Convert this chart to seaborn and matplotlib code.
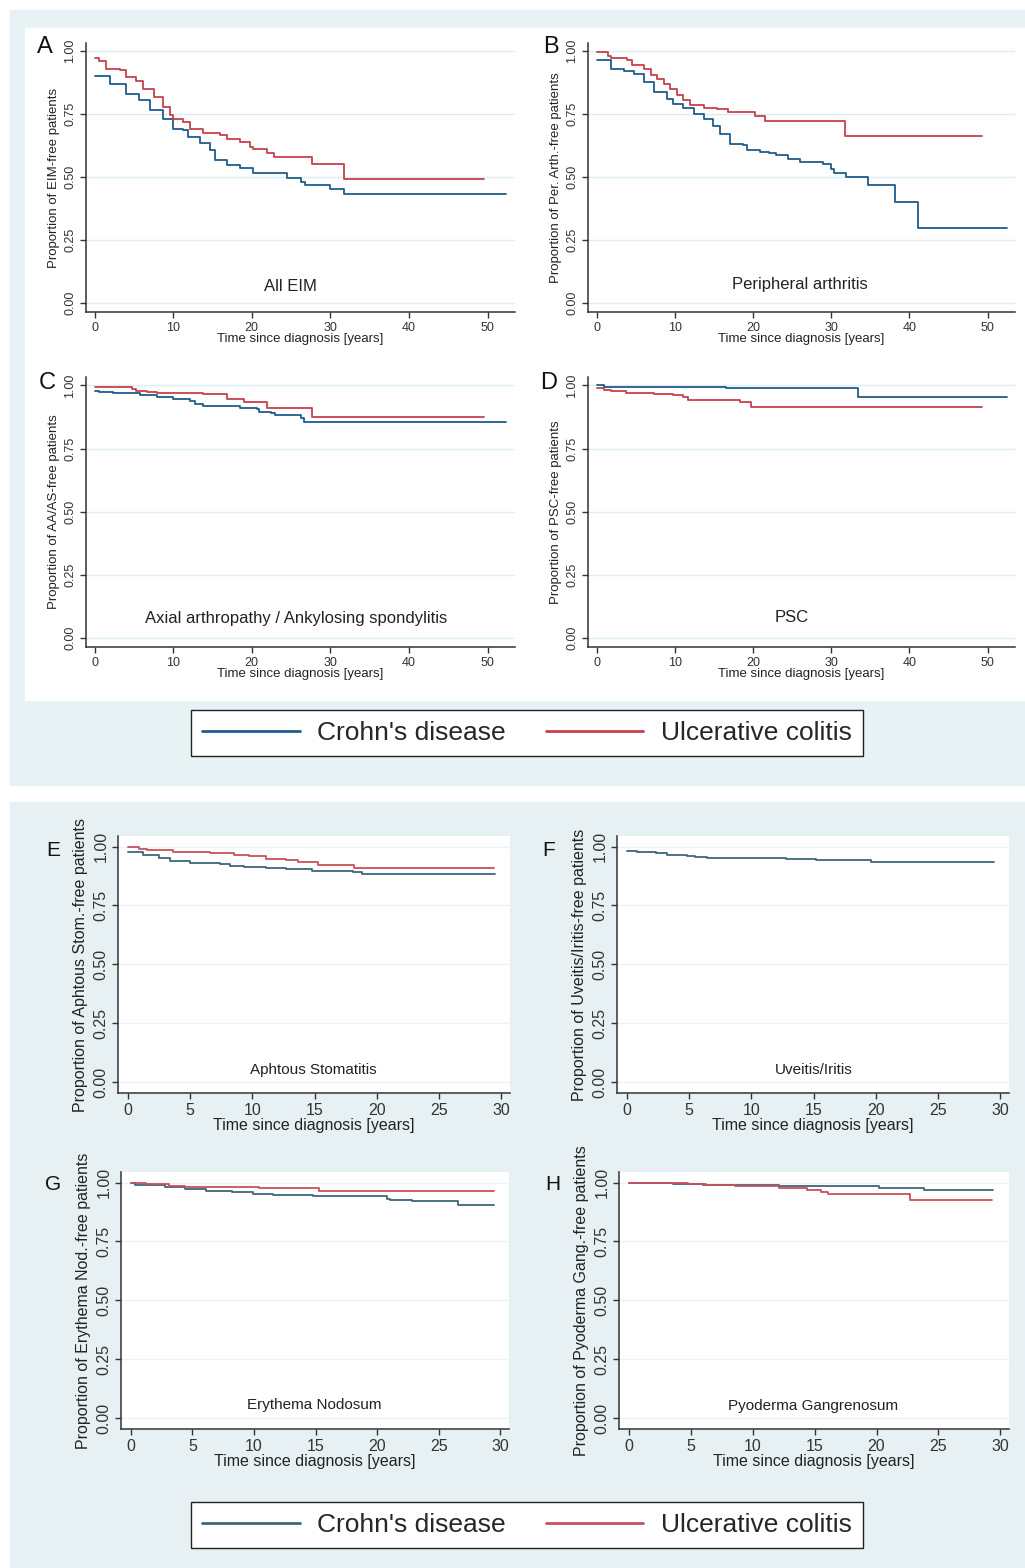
import pandas as pd
import matplotlib
matplotlib.use('Agg')
import matplotlib.pyplot as plt
from matplotlib.patches import Rectangle
import seaborn as sns

# Kaplan-Meier curves (time in years, proportion event-free)
a_cd_t = [0, 1.9, 4.0, 5.7, 7.0, 8.7, 10.0, 11.3, 11.9, 13.4, 14.7, 15.3, 16.8, 18.5, 20.2, 23.2, 24.5, 26.2, 26.8, 30.0, 31.7, 52.4]
a_cd_s = [0.90, 0.871, 0.829, 0.805, 0.766, 0.733, 0.693, 0.687, 0.66, 0.634, 0.608, 0.568, 0.549, 0.536, 0.518, 0.516, 0.496, 0.483, 0.47, 0.453, 0.434, 0.434]
a_uc_t = [0, 0.6, 1.5, 3.2, 4.0, 5.3, 6.2, 7.5, 8.7, 9.6, 10.0, 11.3, 12.1, 13.8, 16.0, 16.8, 18.5, 19.8, 20.2, 21.9, 22.8, 27.7, 31.7, 49.5]
a_uc_s = [0.974, 0.963, 0.93, 0.924, 0.897, 0.884, 0.851, 0.818, 0.779, 0.746, 0.733, 0.72, 0.693, 0.674, 0.667, 0.65, 0.641, 0.621, 0.612, 0.595, 0.582, 0.551, 0.493, 0.493]

b_cd_t = [0, 1.8, 3.5, 4.75, 6.0, 7.3, 9.0, 9.8, 11.1, 12.4, 13.7, 14.9, 15.8, 17.0, 18.7, 19.2, 20.9, 22.1, 23.0, 24.5, 26.0, 28.9, 30.0, 30.4, 31.9, 34.7, 38.1, 41.1, 52.5]
b_cd_s = [0.966, 0.93, 0.92, 0.908, 0.877, 0.838, 0.811, 0.792, 0.776, 0.752, 0.732, 0.702, 0.673, 0.633, 0.627, 0.61, 0.60, 0.596, 0.587, 0.574, 0.561, 0.551, 0.534, 0.517, 0.501, 0.468, 0.402, 0.30, 0.30]
b_uc_t = [0, 1.4, 1.8, 3.9, 4.5, 6.0, 6.9, 7.7, 8.6, 9.4, 10.3, 11.1, 12.0, 13.7, 15.4, 16.8, 20.2, 21.5, 31.8, 49.3]
b_uc_s = [0.996, 0.983, 0.974, 0.966, 0.947, 0.93, 0.904, 0.89, 0.871, 0.851, 0.828, 0.807, 0.785, 0.776, 0.769, 0.759, 0.743, 0.723, 0.662, 0.662]

c_cd_t = [0, 0.6, 2.3, 5.75, 7.9, 10.0, 12.1, 12.8, 13.8, 18.5, 20.7, 20.9, 22.4, 23.0, 26.2, 26.6, 52.4]
c_cd_s = [0.977, 0.974, 0.968, 0.96, 0.955, 0.944, 0.938, 0.927, 0.918, 0.911, 0.905, 0.895, 0.891, 0.882, 0.872, 0.856, 0.856]
c_uc_t = [0, 4.7, 5.3, 6.6, 7.9, 13.8, 16.8, 19.0, 21.9, 27.7, 49.5]
c_uc_s = [0.993, 0.984, 0.977, 0.975, 0.968, 0.964, 0.947, 0.934, 0.911, 0.874, 0.874]

d_cd_t = [0, 0.9, 16.6, 33.4, 52.5]
d_cd_s = [1.0, 0.993, 0.988, 0.955, 0.955]
d_uc_t = [0, 0.9, 1.8, 3.7, 7.3, 9.8, 11.1, 11.7, 18.3, 19.8, 49.3]
d_uc_s = [0.988, 0.981, 0.977, 0.971, 0.967, 0.96, 0.954, 0.942, 0.934, 0.916, 0.916]

e_cd_t = [0, 1.2, 2.5, 3.4, 5.0, 7.4, 8.2, 9.3, 11.1, 12.7, 14.8, 18.1, 18.8, 29.5]
e_cd_s = [0.976, 0.965, 0.95, 0.94, 0.932, 0.926, 0.919, 0.915, 0.911, 0.905, 0.897, 0.89, 0.883, 0.883]
e_uc_t = [0, 0.9, 1.5, 3.6, 5.0, 6.6, 8.5, 9.7, 11.1, 12.7, 13.7, 15.3, 18.2, 29.4]
e_uc_s = [0.997, 0.989, 0.986, 0.979, 0.975, 0.972, 0.965, 0.958, 0.949, 0.943, 0.934, 0.922, 0.908, 0.908]

f_cd_t = [0, 0.8, 2.3, 3.2, 4.8, 5.5, 6.4, 12.8, 15.2, 19.6, 29.5]
f_cd_s = [0.982, 0.977, 0.972, 0.965, 0.96, 0.956, 0.95, 0.946, 0.942, 0.936, 0.936]

g_cd_t = [0, 0.35, 2.8, 4.4, 6.1, 8.2, 9.9, 11.5, 14.8, 20.8, 21.0, 22.8, 26.6, 29.5]
g_cd_s = [0.997, 0.99, 0.983, 0.972, 0.963, 0.959, 0.952, 0.946, 0.942, 0.931, 0.927, 0.92, 0.906, 0.906]
g_uc_t = [0, 1.2, 3.1, 4.4, 10.4, 15.3, 29.5]
g_uc_s = [0.997, 0.992, 0.987, 0.983, 0.977, 0.963, 0.963]

h_cd_t = [0, 3.6, 6.0, 12.1, 20.2, 23.8, 29.4]
h_cd_s = [0.997, 0.993, 0.989, 0.984, 0.977, 0.967, 0.967]
h_uc_t = [0, 4.8, 6.2, 8.6, 12.1, 14.4, 15.5, 16.1, 22.7, 29.3]
h_uc_s = [0.997, 0.993, 0.989, 0.986, 0.976, 0.97, 0.959, 0.952, 0.924, 0.924]

groups = ["Crohn's disease", "Ulcerative colitis"]
y_ticks = [0, 0.25, 0.5, 0.75, 1.0]
y_ticklabels = ['0.00', '0.25', '0.50', '0.75', '1.00']


def km_frame(cd_t, cd_s, uc_t=None, uc_s=None):
    rows = [(t, s, groups[0]) for t, s in zip(cd_t, cd_s)]
    if uc_t is not None:
        rows += [(t, s, groups[1]) for t, s in zip(uc_t, uc_s)]
    return pd.DataFrame(rows, columns=['time', 'surv', 'group'])


sns.set_style('ticks')
plt.rcParams['font.family'] = ['Liberation Sans', 'DejaVu Sans']

W, H = 1025, 1568
fig = plt.figure(figsize=(W / 100, H / 100), dpi=100)


def rect(l, t, r, b):
    return [l / W, 1 - b / H, (r - l) / W, (b - t) / H]


def fig_box(l, t, r, b, color):
    fig.patches.append(Rectangle((l / W, 1 - b / H), (r - l) / W, (b - t) / H,
                                 transform=fig.transFigure, color=color, zorder=-5))


# backgrounds of the two composite figures
fig_box(10, 10, 1025, 785, '#e6f2f4')
fig_box(25, 28, 1025, 700, 'white')
fig_box(10, 802, 1025, 1568, '#e7f1f4')

top_pal = {groups[0]: '#1f5c8c', groups[1]: '#c7404c'}
bot_pal = {groups[0]: '#3f6779', groups[1]: '#c9505c'}

panels = [
    # letter, frame, axes box, letter xy, ylabel, note, note xy
    ('A', km_frame(a_cd_t, a_cd_s, a_uc_t, a_uc_s), (86, 43, 515, 312), (45, 47),
     'Proportion of EIM-free patients', 'All EIM', (24.9, 0.068)),
    ('B', km_frame(b_cd_t, b_cd_s, b_uc_t, b_uc_s), (588, 43, 1015, 312), (551, 47),
     'Proportion of Per. Arth.-free patients', 'Peripheral arthritis', (26.0, 0.073)),
    ('C', km_frame(c_cd_t, c_cd_s, c_uc_t, c_uc_s), (86, 377, 515, 647), (47, 383),
     'Proportion of AA/AS-free patients', 'Axial arthropathy / Ankylosing spondylitis', (25.6, 0.077)),
    ('D', km_frame(d_cd_t, d_cd_s, d_uc_t, d_uc_s), (588, 377, 1015, 647), (549, 383),
     'Proportion of PSC-free patients', 'PSC', (24.9, 0.083)),
    ('E', km_frame(e_cd_t, e_cd_s, e_uc_t, e_uc_s), (118, 836, 510, 1093), (53, 850),
     'Proportion of Aphtous Stom.-free patients', 'Aphtous Stomatitis', (14.9, 0.052)),
    ('F', km_frame(f_cd_t, f_cd_s), (617, 836, 1009, 1093), (549, 850),
     'Proportion of Uveitis/Iritis-free patients', 'Uveitis/Iritis', (15.0, 0.052)),
    ('G', km_frame(g_cd_t, g_cd_s, g_uc_t, g_uc_s), (121, 1172, 509, 1429), (53, 1185),
     'Proportion of Erythema Nod.-free patients', 'Erythema Nodosum', (14.9, 0.054)),
    ('H', km_frame(h_cd_t, h_cd_s, h_uc_t, h_uc_s), (619, 1172, 1009, 1429), (553, 1185),
     'Proportion of Pyoderma Gang.-free patients', 'Pyoderma Gangrenosum', (14.9, 0.051)),
]

handles = {}
for letter, df, box, lxy, ylab, note, nxy in panels:
    top = letter in 'ABCD'
    ax = fig.add_axes(rect(*box))
    ax.set_facecolor('none' if top else 'white')
    pal = top_pal if top else bot_pal
    present = [g for g in groups if g in df['group'].values]
    sns.lineplot(data=df, x='time', y='surv', hue='group', palette=pal,
                 hue_order=present, estimator=None, drawstyle='steps-post',
                 linewidth=1.3, legend=False, ax=ax)

    if top:
        ax.set_xlim(-1.1, 53.5)
        ax.set_ylim(-0.035, 1.033)
        ax.set_xticks([0, 10, 20, 30, 40, 50])
        tick_fs, xlab_fs, ylab_fs, let_fs, note_fs = 9, 9.5, 9.5, 17, 12
        xpad, ypad = -0.5, 3
        grid_c = '#dcecf0'
    else:
        ax.set_xlim(-0.8, 30.7)
        ax.set_ylim(-0.047, 1.045)
        ax.set_xticks([0, 5, 10, 15, 20, 25, 30])
        tick_fs, xlab_fs, ylab_fs, let_fs, note_fs = 11.5, 11.5, 11.5, 15, 11
        xpad, ypad = 0, 4
        grid_c = '#edf2f4'

    ax.set_yticks(y_ticks)
    ax.set_yticklabels(y_ticklabels)
    ax.yaxis.grid(True, color=grid_c, linewidth=1.0)
    ax.xaxis.grid(False)
    ax.set_axisbelow(True)
    for side in ['top', 'right']:
        ax.spines[side].set_visible(False)
    for side in ['left', 'bottom']:
        ax.spines[side].set_color('#333333')
        ax.spines[side].set_linewidth(1.1)
    ax.tick_params(colors='#333333', labelsize=tick_fs, length=4, width=1.0, pad=3)
    for lab in ax.get_yticklabels():
        lab.set_rotation(90)
        lab.set_va('center')
        lab.set_ha('right')

    ax.set_xlabel('Time since diagnosis [years]', fontsize=xlab_fs, labelpad=xpad,
                  color='#222222')
    ax.set_ylabel(ylab, fontsize=ylab_fs, labelpad=ypad, color='#222222')
    ax.text(nxy[0], nxy[1], note, fontsize=note_fs, ha='center', va='center', color='#222222')
    fig.text(lxy[0] / W, 1 - lxy[1] / H, letter, fontsize=let_fs, ha='center', va='center',
             color='#111111')

    for line, g in zip(ax.get_lines(), present):
        handles.setdefault((top, g), line)

# figure-level legends (one per composite)
for top, cy in [(True, 733), (False, 1525)]:
    hs = [handles[(top, g)] for g in groups]
    leg = fig.legend(hs, groups, loc='center', bbox_to_anchor=(527 / W, 1 - cy / H),
                     ncol=2, fontsize=19, frameon=True, fancybox=False, framealpha=1,
                     edgecolor='#222222', handlelength=3.7, handletextpad=0.68,
                     columnspacing=1.5, borderpad=0.4)
    leg.get_frame().set_linewidth(1.0)
    for ln in leg.get_lines():
        ln.set_linewidth(2.0)

fig.savefig('out.png', dpi=100)
